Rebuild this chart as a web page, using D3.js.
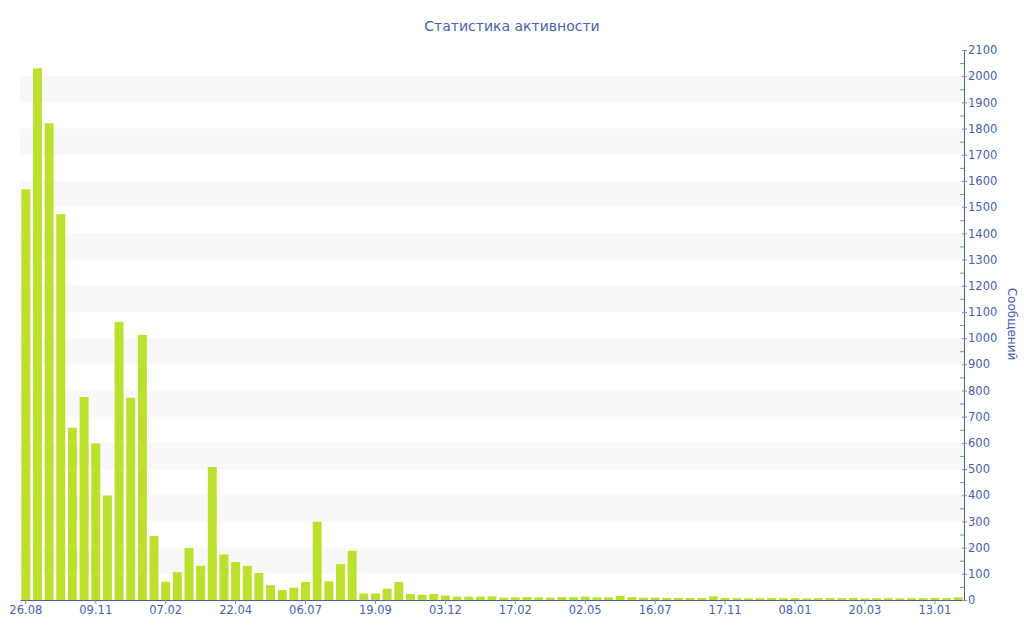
<!DOCTYPE html>
<html>
<head>
<meta charset="utf-8">
<script src="https://cdn.jsdelivr.net/npm/d3@7"></script>
<style>
  body { margin: 0; background: #fff; }
  svg { display: block; font-family: "DejaVu Sans", Verdana, sans-serif; }
</style>
</head>
<body>
<script>
// messages per period
const counts = [
    1568, 2030, 1820, 1473, 658, 775, 598, 399, 1062, 772,
    1012, 245, 70, 106, 198, 131, 508, 174, 145, 130,
    103, 57, 38, 47, 69, 299, 71, 137, 188, 25,
    25, 43, 69, 23, 20, 23, 17, 13, 13, 13,
    14, 9, 10, 11, 10, 9, 11, 11, 13, 10,
    10, 15, 11, 9, 9, 8, 8, 8, 8, 14,
    8, 7, 6, 7, 8, 7, 7, 6, 7, 8,
    7, 8, 6, 7, 7, 6, 7, 7, 8, 7,
    10
];
// labels shown under every 6th bar
const tickLabels = ["26.08", "09.11", "07.02", "22.04", "06.07", "19.09", "03.12",
                    "17.02", "02.05", "16.07", "17.11", "08.01", "20.03", "13.01"];
const labelStep = 6;
const yMax = 2100;

const title = "Статистика активности";
const yTitle = "Сообщений";

const blue = "#4a61a8";
const barColor = "#bce02e";

function main() {
    let svg = d3.select("body").append("svg")
        .attr("width", 1024)
        .attr("height", 640);

    let idx = d3.range(counts.length);

    let x = d3.scaleBand().domain(idx).range([20, 964])
        .paddingInner(0.23).paddingOuter(0.115);
    let y = d3.scaleLinear().domain([0, yMax]).range([600, 50]);

    // alternating grey bands
    svg.append("g").selectAll("rect")
        .data(d3.range(100, yMax, 200))
        .join("rect")
        .attr("x", 20)
        .attr("width", 944)
        .attr("y", d => y(d + 100))
        .attr("height", d => y(d) - y(d + 100))
        .attr("fill", "#f8f8f8");

    svg.append("g").selectAll("rect")
        .data(counts)
        .join("rect")
        .attr("x", (d, i) => x(i))
        .attr("width", x.bandwidth())
        .attr("y", d => y(d))
        .attr("height", d => y(0) - y(d))
        .attr("fill", barColor);

    // bottom axis
    let xaxis = d3.axisBottom(x)
        .tickValues(idx.filter(i => i % labelStep == 0))
        .tickFormat(i => tickLabels[i / labelStep])
        .tickSizeInner(4).tickSizeOuter(0).tickPadding(2);
    let gx = svg.append("g").attr("transform", "translate(0,600)").call(xaxis);
    gx.select(".domain").attr("stroke", blue);
    gx.selectAll(".tick line").attr("stroke", "#8a8a9a");
    gx.selectAll("text").attr("fill", blue).style("font-size", "11.5px")
        .style("font-family", "DejaVu Sans");

    // right axis, minor ticks first
    let minor = d3.axisRight(y).tickValues(d3.range(50, yMax, 100))
        .tickSizeInner(-4).tickSizeOuter(0).tickFormat("");
    let gm = svg.append("g").attr("transform", "translate(964,0)").call(minor);
    gm.select(".domain").remove();
    gm.selectAll(".tick line").attr("stroke", "#8a8a9a");

    let yaxis = d3.axisRight(y).tickValues(d3.range(0, yMax + 1, 100))
        .tickFormat(d3.format("d"))
        .tickSizeInner(3).tickSizeOuter(0).tickPadding(1);
    let gy = svg.append("g").attr("transform", "translate(964,0)").call(yaxis);
    gy.select(".domain").attr("stroke", blue);
    gy.selectAll(".tick line").attr("x1", -2).attr("stroke", "#8a8a9a");
    gy.selectAll("text").attr("fill", blue).style("font-size", "11.5px")
        .style("font-family", "DejaVu Sans");

    svg.append("text")
        .attr("x", 512)
        .attr("y", 31)
        .attr("text-anchor", "middle")
        .attr("fill", blue)
        .style("font-size", "14px")
        .text(title);

    svg.append("text")
        .attr("transform", "translate(1007.5,324) rotate(90)")
        .attr("text-anchor", "middle")
        .attr("fill", blue)
        .style("font-size", "12px")
        .text(yTitle);
}

main()
</script>
</body>
</html>
